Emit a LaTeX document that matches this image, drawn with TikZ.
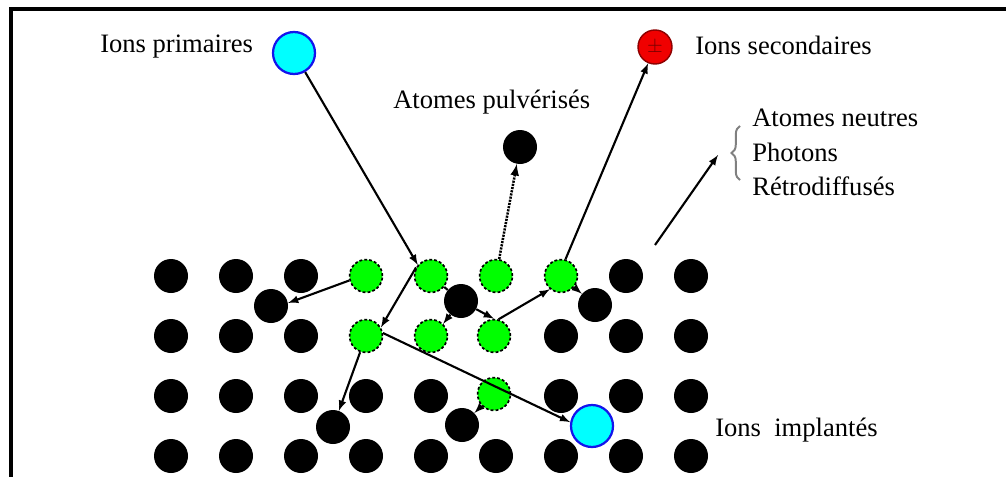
\documentclass[tikz,border=0pt]{standalone}
\usepackage{fontspec}
\setmainfont{Liberation Serif}
\usepackage{tikz}
\usetikzlibrary{decorations.pathreplacing}
\definecolor{cyanclair}{RGB}{0,255,255}
\definecolor{bleuion}{RGB}{20,20,235}
\definecolor{vertexcite}{RGB}{0,255,0}
\definecolor{rougeion}{RGB}{240,0,0}

\begin{document}
\begin{tikzpicture}[scale=0.25]
        \tikzstyle{every node}+=[inner sep=0pt]
        \tikzstyle{atome}=[circle, fill=black, minimum size=0.85cm]
        \tikzstyle{excite}=[circle, fill=vertexcite, draw=black, line width=1.2pt, dash pattern=on 2pt off 1.5pt, minimum size=0.82cm]
        \tikzstyle{ion}=[circle, fill=cyanclair, draw=bleuion, line width=1.6pt, minimum size=1.05cm]
        \tikzstyle{fleche}=[black, line width=1.5pt, -latex]
        \tikzstyle{etiquette}=[anchor=west, font=\fontsize{18.9}{24.5}\selectfont]
        \useasboundingbox (0,0) rectangle (100.6,-47.7);
        % cadre
        \draw [black, line width=3.5pt] (100.6,-0.9) -- (1.1,-0.9) -- (1.1,-47.7);
        % ions et atome ejectes
        \node [ion] (prim) at (29.4,-5.3) {};
        \node [circle, fill=rougeion, draw=red!55!black, line width=1pt, minimum size=0.85cm, text=red!45!black, font=\Large] (sec) at (65.5,-4.7) {$\pm$};
        \node [atome] (pulv) at (52.0,-14.7) {};
        \node [ion] (imp) at (59.2,-42.6) {};
        % rangee 1
        \node [atome] (n11) at (17.1,-27.6) {};
        \node [atome] (n12) at (23.6,-27.6) {};
        \node [atome] (n13) at (30.1,-27.6) {};
        \node [excite] (g11) at (36.6,-27.6) {};
        \node [excite] (g12) at (43.1,-27.6) {};
        \node [excite] (g13) at (49.6,-27.6) {};
        \node [excite] (g14) at (56.1,-27.6) {};
        \node [atome] (n18) at (62.6,-27.6) {};
        \node [atome] (n19) at (69.1,-27.6) {};
        % interstitiels
        \node [atome] (i11) at (27.1,-30.6) {};
        \node [atome] (i12) at (46.1,-30.1) {};
        \node [atome] (i13) at (59.5,-30.5) {};
        % rangee 2
        \node [atome] (n21) at (17.1,-33.6) {};
        \node [atome] (n22) at (23.6,-33.6) {};
        \node [atome] (n23) at (30.1,-33.6) {};
        \node [excite] (g21) at (36.6,-33.6) {};
        \node [excite] (g22) at (43.1,-33.6) {};
        \node [excite] (g23) at (49.4,-33.6) {};
        \node [atome] (n27) at (56.1,-33.6) {};
        \node [atome] (n28) at (62.6,-33.6) {};
        \node [atome] (n29) at (69.1,-33.6) {};
        % rangee 3
        \node [atome] (n31) at (17.1,-39.6) {};
        \node [atome] (n32) at (23.6,-39.6) {};
        \node [atome] (n33) at (30.1,-39.6) {};
        \node [atome] (n34) at (36.6,-39.6) {};
        \node [atome] (n35) at (43.1,-39.6) {};
        \node [excite] (g33) at (49.4,-39.4) {};
        \node [atome] (n37) at (56.1,-39.6) {};
        \node [atome] (n38) at (62.6,-39.6) {};
        \node [atome] (n39) at (69.1,-39.6) {};
        % interstitiels
        \node [atome] (i31) at (33.3,-42.7) {};
        \node [atome] (i32) at (46.2,-42.5) {};
        % rangee 4
        \node [atome] (n41) at (17.1,-45.6) {};
        \node [atome] (n42) at (23.6,-45.6) {};
        \node [atome] (n43) at (30.1,-45.6) {};
        \node [atome] (n44) at (36.6,-45.6) {};
        \node [atome] (n45) at (43.1,-45.6) {};
        \node [atome] (n46) at (49.6,-45.6) {};
        \node [atome] (n47) at (56.1,-45.6) {};
        \node [atome] (n48) at (62.6,-45.6) {};
        \node [atome] (n49) at (69.1,-45.6) {};
        % cascade
        \draw [fleche] (prim) -- (g12.140);
        \draw [fleche] (g12.150) -- (g21.30);
        \draw [fleche] (g21.250) -- (i31.70);
        \draw [fleche] (g21.10) -- (imp.170);
        \draw [fleche] (g11.195) -- (i11.10);
        \draw [fleche] (g33) -- (i32);
        \draw [black, line width=1.5pt] (g12) -- (i12);
        \draw [fleche] (i12) -- (g23.north);
        \draw [fleche] (i12) -- (g22.45);
        \draw [fleche] (g23.75) -- (g14.230);
        \draw [fleche] (g14) -- (i13);
        \draw [fleche] (g14.75) -- (sec);
        \draw [fleche, line width=1.8pt, dash pattern=on 1.5pt off 0.8pt] (g13) -- (pulv);
        % autres particules
        \coordinate (depart) at (65.5,-24.5);
        \coordinate (accolade) at (71.8,-15.5);
        \draw [fleche] (depart) -- (accolade);
        \draw [gray, line width=1.4pt, decorate, decoration={brace, amplitude=6pt}] (74.0,-18.0) -- (74.0,-12.6);
        % etiquettes
        \node [etiquette] (lprim) at (10.0,-4.7) {Ions primaires};
        \node [etiquette] (lsec) at (69.5,-4.5) {Ions secondaires};
        \node [etiquette] (lpulv) at (39.3,-10.2) {Atomes pulvérisés};
        \node [etiquette, align=left] (lautres) at (75.2,-15.25) {Atomes neutres\\Photons\\Rétrodiffusés};
        \node [etiquette] (limp) at (71.5,-43.0) {Ions\ \ implantés};
\end{tikzpicture}
\end{document}
